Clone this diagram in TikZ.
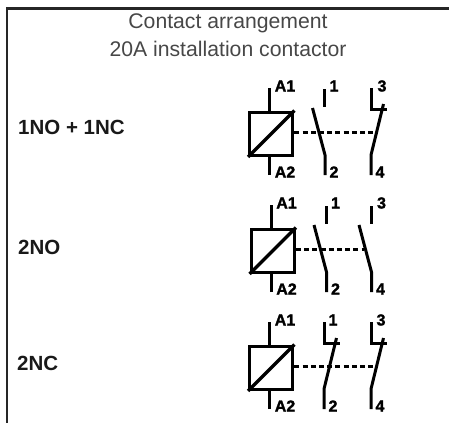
\documentclass[tikz,border=0pt]{standalone}
\usepackage{fontspec}
\setmainfont{Liberation Sans}
\newfontfamily\termfont[FakeBold=1.6]{Liberation Sans Bold}
\tikzset{
  x=1pt,y=-1pt,
  wire/.style={line width=3pt,black,line cap=butt},
  coilbox/.style={draw,black,line width=3.4pt,minimum width=43pt,minimum height=43pt,inner sep=0pt,anchor=north west},
  linkline/.style={line width=3pt,black,dash pattern=on 5pt off 3.2pt},
  term/.style={font=\termfont\fontsize{16}{16}\selectfont,inner sep=0pt,text=black},
  rowlabel/.style={font=\fontsize{20.5}{20.5}\selectfont\bfseries,inner sep=0pt,anchor=west,text=black!90},
  titletext/.style={font=\fontsize{21.2}{21.2}\selectfont,inner sep=0pt,text=black!72},
  pics/coil/.style={code={
    \node[coilbox] (box) at (248,110.5) {};
    \coordinate (top) at (269.5,88);
    \coordinate (bot) at (269.5,175);
    \draw[wire] (top) -- (box.north -| top);
    \draw[wire] (bot) -- (box.south -| bot);
    \draw[wire,line width=3.4pt] (box.south west) -- (box.north east);
    \node[term] (a1) at (285,86) {A1};
    \node[term] (a2) at (285,172) {A2};
  }},
  pics/nocontact/.style={code={
    \coordinate (up) at (#1-0.5,89);
    \coordinate (upe) at (#1-0.5,107);
    \coordinate (bladetop) at (#1-12.5,108);
    \coordinate (knee) at (#1,155);
    \coordinate (end) at (#1,175);
    \draw[wire] (up) -- (upe);
    \draw[wire,line join=round] (bladetop) -- (knee) -- (end);
  }},
  pics/nccontact/.style={code={
    \coordinate (up) at (#1,88);
    \coordinate (corner) at (#1,109.5);
    \coordinate (stop) at (#1+16,109.5);
    \coordinate (bladetop) at (#1+12.5,104);
    \coordinate (knee) at (#1,155);
    \coordinate (end) at (#1,175);
    \draw[wire,line join=miter] (up) -- (corner) -- (stop);
    \draw[wire,line join=round] (bladetop) -- (knee) -- (end);
  }},
}
\begin{document}
\begin{tikzpicture}
\useasboundingbox (0,0) rectangle (449,423);
\coordinate (frameTL) at (7,8.5);
\coordinate (frameTR) at (449,8.5);
\coordinate (frameBL) at (7,423);
\draw[line width=2.2pt,black!85] (frameTR) -- (frameTL) -- (frameBL);
\node[titletext] (t1) at (228,23) {Contact arrangement};
\node[titletext] (t2) at (228,49) {20A installation contactor};
\node[rowlabel] (r1) at (18,127) {1NO + 1NC};
\node[rowlabel] (r2) at (18,247) {2NO};
\node[rowlabel] (r3) at (17,363) {2NC};
% row 1
\begin{scope}
  \pic (ca) {coil};
  \pic (ka) {nocontact=325};
  \pic (kb) {nccontact=371};
  \coordinate (la) at (377,132);
  \draw[linkline] (cabox.east |- la) -- (la);
  \node[term] (n1) at (334,86) {1};
  \node[term] (n2) at (334,172) {2};
  \node[term] (n3) at (382,86) {3};
  \node[term] (n4) at (380,172) {4};
\end{scope}
% row 2
\begin{scope}[xshift=1.5pt,yshift=-117pt]
  \pic (cb) {coil};
  \pic (ma) {nocontact=325};
  \pic (mb) {nocontact=370};
  \coordinate (lb) at (362,132);
  \draw[linkline] (cbbox.east |- lb) -- (lb);
  \node[term] (p1) at (334,86) {1};
  \node[term] (p2) at (334,172) {2};
  \node[term] (p3) at (380,86) {3};
  \node[term] (p4) at (379,172) {4};
\end{scope}
% row 3
\begin{scope}[yshift=-234pt]
  \pic (cc) {coil};
  \pic (qa) {nccontact=324};
  \pic (qb) {nccontact=371};
  \coordinate (lc) at (377,132);
  \draw[linkline] (ccbox.east |- lc) -- (lc);
  \node[term] (s1) at (333,86) {1};
  \node[term] (s2) at (333,172) {2};
  \node[term] (s3) at (381,86) {3};
  \node[term] (s4) at (380,172) {4};
\end{scope}
\end{tikzpicture}
\end{document}
